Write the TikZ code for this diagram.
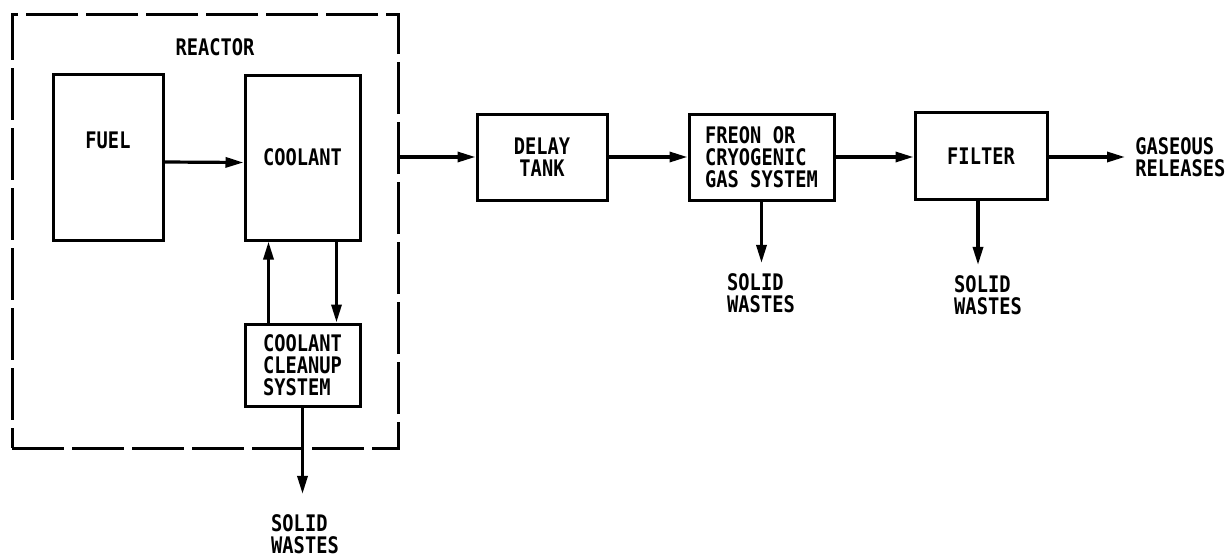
\documentclass[tikz,border=0pt]{standalone}
\usepackage{fontspec}
\newfontfamily\plotfont[FakeStretch=0.82]{DejaVu Sans Mono}
\usetikzlibrary{arrows.meta, positioning}
\tikzset{
  txt/.style={font=\plotfont\bfseries\fontsize{11.4}{11}\selectfont, align=left, inner sep=0pt},
  blk/.style={draw, line width=1.5pt, txt},
  reactorbox/.style={draw, line width=1.5pt, dash pattern=on 26pt off 4pt, inner sep=0pt},
  flow/.style={line width=1.6pt, -{Triangle[length=9pt, width=5pt]}}
}

\begin{document}
\begin{tikzpicture}[x=0.5pt, y=-0.5pt]
\useasboundingbox (0,0) rectangle (1232,557);

% Reactor
\node[reactorbox, minimum width=193pt, minimum height=217pt] (reactor) at (205,231) {};
\node[txt] (reactorlbl) at (215,47) {REACTOR};
\node[blk, minimum width=55pt, minimum height=83pt] (fuel) at (108,157) {};
\node[txt] (fuellbl) at (108,140) {FUEL};
\node[blk, minimum width=57.5pt, minimum height=82.5pt] (coolant) at (302.5,157.5) {COOLANT};
\node[blk, minimum width=57.5pt, minimum height=41pt] (cleanup) at (302.5,365) {COOLANT\\CLEANUP\\SYSTEM};

% Gas train
\node[blk, align=center, minimum width=65pt, minimum height=43pt] (delay) at (542,157) {DELAY\\TANK};
\node[blk, minimum width=72.5pt, minimum height=43pt] (freon) at (761.5,157) {FREON OR\\CRYOGENIC\\GAS SYSTEM};
\node[blk, minimum width=66pt, minimum height=43.5pt] (filter) at (981,156) {FILTER};
\node[txt, anchor=west] (gas) at (1135,157) {GASEOUS\\RELEASES};

% Wastes
\node[txt] (waste1) at (305,534) {SOLID\\WASTES};
\node[txt] (waste2) at (761,293) {SOLID\\WASTES};
\node[txt] (waste3) at (988,295) {SOLID\\WASTES};

% Arrows
\draw[flow] ([yshift=-2.5pt]fuel.east) -- ([yshift=-2.5pt]coolant.west);
\draw[flow] ([xshift=-17pt]cleanup.north) -- ([xshift=-17pt]coolant.south);
\draw[flow] ([xshift=17pt]coolant.south) -- ([xshift=17pt]cleanup.north);
\draw[flow, shorten >=10pt] (cleanup.south) -- (cleanup.south |- waste1.north);
\draw[flow] (reactor.east |- delay.west) -- (delay.west);
\draw[flow] (delay.east) -- (freon.west);
\draw[flow] (freon.east) -- (filter.west |- freon.east);
\draw[flow, shorten >=5pt] (filter.east |- gas.west) -- (gas.west);
\draw[flow, shorten >=5pt] (freon.south) -- (freon.south |- waste2.north);
\draw[flow, shorten >=5pt] ([xshift=-1.5pt]filter.south) -- ([xshift=-1.5pt]filter.south |- waste3.north);

\end{tikzpicture}
\end{document}
